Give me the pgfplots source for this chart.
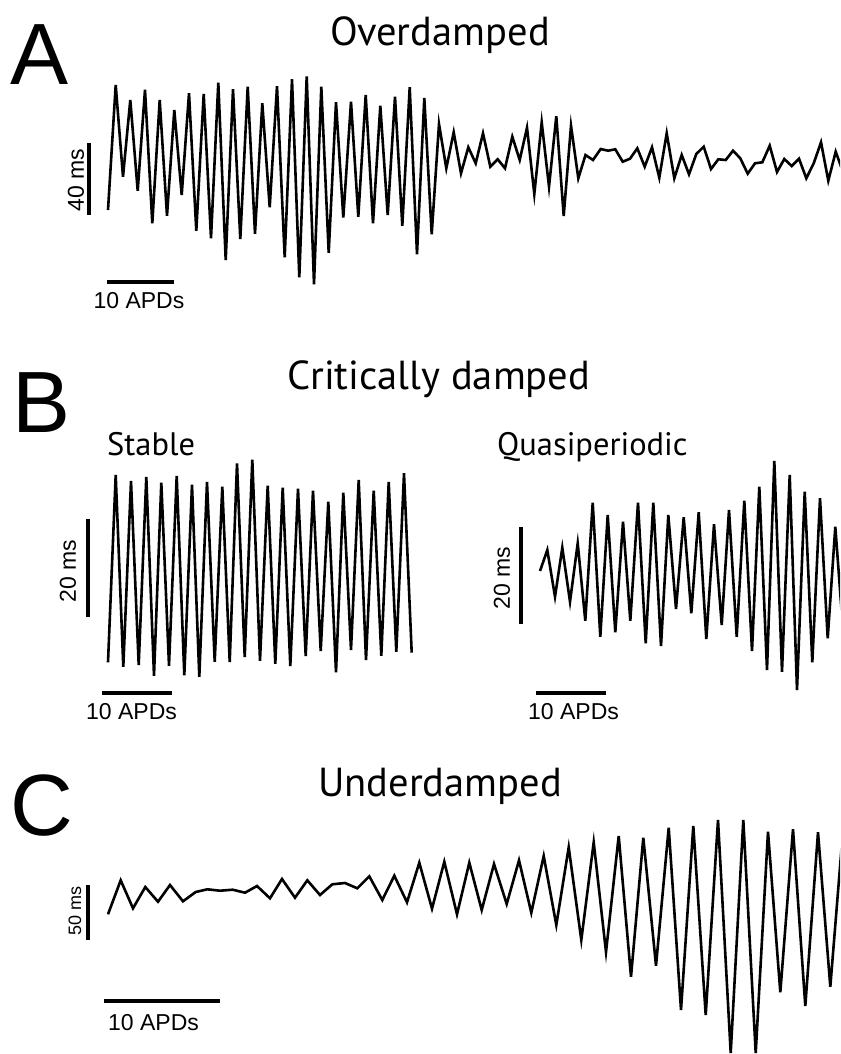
\documentclass[border=0pt]{standalone}
\usepackage{pgfplots}
\pgfplotsset{compat=1.18}
\usepackage{fontspec}
\setmainfont{Liberation Sans}
\newfontfamily\titlefont{PT Sans}

% one axis in picture pixels (1 px = 1 pt), y pointing down
\newcommand{\ttl}{\titlefont\fontsize{40.5}{44}\selectfont}
\newcommand{\sub}{\titlefont\fontsize{32.5}{36}\selectfont}
\newcommand{\lett}{\fontsize{87}{90}\selectfont}
\newcommand{\lbl}{\fontsize{23}{26}\selectfont}

\begin{document}
\begin{tikzpicture}
\begin{axis}[
  scale only axis,
  width=840pt, height=1054pt,
  xmin=0, xmax=840, ymin=0, ymax=1054,
  y dir=reverse,
  axis line style={draw=none},
  xtick=\empty, ytick=\empty,
  clip=true,
  trace/.style={black, line width=2.6pt, line join=miter},
  bar/.style={black, line width=3.4pt},
]
\fill[white] (0,0) rectangle (840,1054);

% ---- A: overdamped ----
\addplot[trace] coordinates {
 (108,210) (115.7,85) (123,176.7) (130.3,100) (137.7,190.7) (145,89.7)
 (152.3,223.3) (159.7,100) (167,215.7) (174.3,110) (181.7,195) (189,93.3)
 (196.3,230.7) (203.7,94) (211,238.3) (218.3,82.7) (225.7,260) (233,89.3)
 (240.3,239) (247.7,86.7) (255,233.7) (262.3,103.3) (269.7,207.3) (277,86.3)
 (284.7,257.3) (292,79.3) (299.3,277.3) (306.7,76.3) (314,284.3) (321.3,86.7)
 (328.7,252.7) (336,102.3) (343.3,217.5) (351,101.7) (358.3,216.7) (365.7,95)
 (373,223.3) (380.3,105.7) (387.7,215) (395,96.7) (402.3,225.7) (409.7,87.3)
 (417,254.3) (424.3,98) (431.7,234.3) (439,124) (446.3,168.3) (453.7,132.3)
 (461,173.3) (468.3,147.3) (475.7,163.3) (483,133.3) (490.3,166.7) (497.7,159.3)
 (505,168.3) (512.3,136.7) (519.7,160) (527,127.7) (534.3,194) (541.7,122.3)
 (549,186.7) (556.3,116.3) (563.7,216) (571,125.7) (578.3,178.3) (585.5,155)
 (593,160) (600.7,149) (608,150.7) (615.3,149.3) (622.7,161.7) (630,158.7)
 (637.3,148.3) (644.7,166.7) (652,147.3) (659.3,177.7) (666.7,133.3) (674.3,178.3)
 (681.7,155) (689,174.3) (696.3,154) (703.7,146.7) (711,169) (718.3,159.3)
 (725.7,160) (733,150.7) (740.3,158.3) (747.7,173.7) (755,163.3) (762.3,162.3)
 (769.7,145.7) (777,172) (784.3,159) (791.7,166) (799,158.7) (806.3,178.3)
 (813.7,163.3) (821,142.3) (828.3,180.7) (835.7,151.7) (843,172)
};
\addplot[bar] coordinates {(89,143) (89,215)};
\addplot[bar] coordinates {(107,282) (174,282)};
\node[anchor=base west, inner sep=0pt] at (10,85) {\lett A};
\node[anchor=base, inner sep=0pt] at (440,46) {\ttl Overdamped};
\node[rotate=90, inner sep=0pt] at (76,180) {\lbl 40 ms};
\node[anchor=base, inner sep=0pt] at (139,308) {\lbl 10 APDs};

% ---- B: critically damped, stable ----
\addplot[trace] coordinates {
 (108,662.3) (115.7,475) (123.3,666.7) (131,481) (138.7,665) (146.3,477)
 (154,675.7) (161.3,482.7) (169,665.7) (176.7,476) (184.3,675.3) (192,484.7)
 (199.3,676.7) (207,482) (214.7,661.7) (222.3,486.7) (229.7,662) (237,463.3)
 (244.7,657) (252.3,459.7) (260,660.7) (267.7,485.7) (275.3,663.7) (282.7,487.7)
 (290.3,666) (298,488.7) (305.7,656) (313,490.7) (320.7,651) (328.3,501.7)
 (336,672.3) (343.3,492.7) (351,650) (358.7,480) (366,660) (373.7,490.7)
 (381.3,655.7) (388.7,482) (396.3,651.7) (404,473.3) (411.7,652.7)
};
\addplot[bar] coordinates {(88,519) (88,617)};
\addplot[bar] coordinates {(102,693) (172,693)};
\node[rotate=90, inner sep=0pt] at (68,571) {\lbl 20 ms};
\node[anchor=base west, inner sep=0pt] at (86,719) {\lbl 10 APDs};

% ---- B: critically damped, quasiperiodic ----
\addplot[trace] coordinates {
 (540,571) (547.3,550) (555,596.7) (562.3,547.7) (570,601.7) (577.7,543.3)
 (585.3,620.7) (592.7,502.7) (600.3,636.7) (607.7,515) (615.3,632.3) (623,521.7)
 (630.3,620.7) (638,502.7) (645.7,643.3) (653.3,502.7) (661,646) (668.3,515)
 (676,609) (683.7,517.3) (691.3,613.3) (698.7,512.3) (706.3,639) (714,524.3)
 (721.7,625) (729,510) (736.7,636.7) (744.3,500.7) (752,651) (759.3,486.7)
 (767,670) (774.3,461) (782,671.7) (789.7,475) (797,690) (804.7,491.7)
 (812.3,662.3) (820,498.3) (827.7,638.3) (835.3,526.7) (843,630)
};
\addplot[bar] coordinates {(521,527) (521,624)};
\addplot[bar] coordinates {(536,693) (606,693)};
\node[rotate=90, inner sep=0pt] at (502,578) {\lbl 20 ms};
\node[anchor=base west, inner sep=0pt] at (528,719) {\lbl 10 APDs};

\node[anchor=base west, inner sep=0pt] at (12,432) {\lett B};
\node[anchor=base, inner sep=0pt] at (439,389) {\ttl Critically damped};
\node[anchor=base west, inner sep=0pt] at (107,455) {\sub Stable};
\node[anchor=base west, inner sep=0pt] at (497,455) {\sub Quasiperiodic};

% ---- C: underdamped ----
\addplot[trace] coordinates {
 (108,914.3) (120.7,880.3) (133,908.3) (145.3,887) (158,901.7) (170,885)
 (183,901.3) (195.7,892) (207.3,889.3) (220,890.7) (232.7,889.7) (245,892.7)
 (257,886) (270,898.3) (282,879) (295,897.7) (307.3,880.3) (320,895)
 (332.3,884.3) (345,883) (357.3,888.3) (369.3,876.3) (382.3,900) (394.3,875.7)
 (407,902.3) (419.3,862.7) (432,908.7) (444.3,861.7) (457,914.3) (469.3,862.7)
 (481.7,910) (494,864) (506.7,904) (519,860.3) (531.3,912.7) (543.7,856)
 (556.3,925) (568.7,847.3) (581.3,940) (593.7,842.3) (606,952) (618.7,836)
 (631,976.7) (643.3,837.7) (656,965.7) (668.7,827.7) (681,1010) (693.3,826)
 (705.7,1015) (718,820) (730.7,1053) (743.3,820) (755.7,1053) (768,831.7)
 (780.3,992.3) (793,829.3) (805.3,1006) (818,832.3) (830.3,986.7) (843,830)
};
\addplot[bar] coordinates {(88,885) (88,940)};
\addplot[bar] coordinates {(104,1001) (220,1001)};
\node[rotate=90, inner sep=0pt] at (75,911) {\fontsize{18}{20}\selectfont 50 ms};
\node[anchor=base west, inner sep=0pt] at (108,1030) {\lbl 10 APDs};

\node[anchor=base west, inner sep=0pt] at (10,835) {\lett C};
\node[anchor=base, inner sep=0pt] at (440,796) {\ttl Underdamped};
\end{axis}
\end{tikzpicture}
\end{document}
